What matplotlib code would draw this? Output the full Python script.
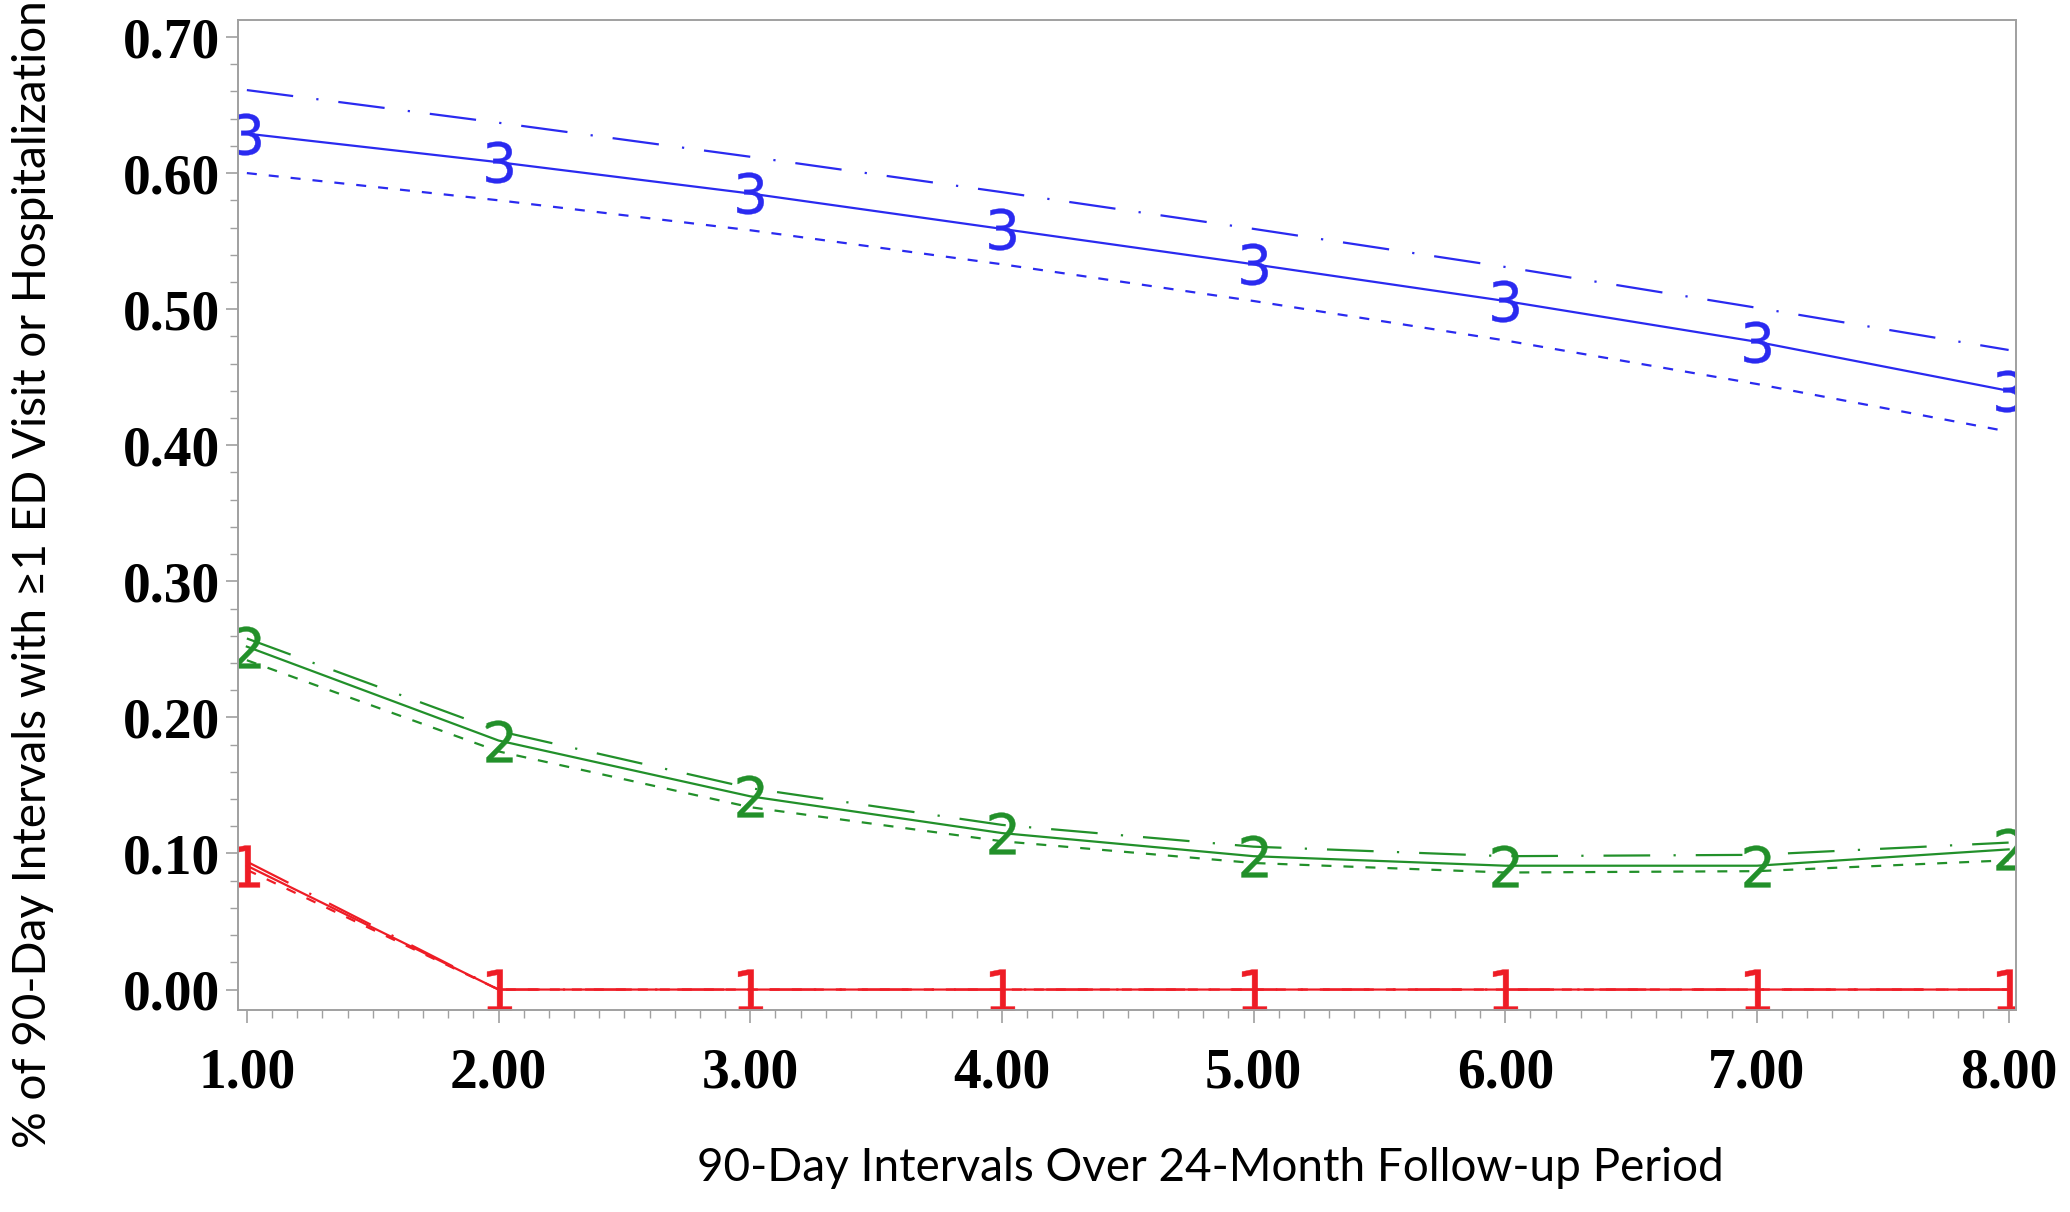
import matplotlib
matplotlib.use("Agg")
import matplotlib.pyplot as plt
from matplotlib.ticker import MultipleLocator, FormatStrFormatter

# ---- data ----
intervals = [1, 2, 3, 4, 5, 6, 7, 8]

g1_est = [0.091, 0.0, 0.0, 0.0, 0.0, 0.0, 0.0, 0.0]
g1_upper = [0.094, 0.0, 0.0, 0.0, 0.0, 0.0, 0.0, 0.0]
g1_lower = [0.088, 0.0, 0.0, 0.0, 0.0, 0.0, 0.0, 0.0]

g2_est = [0.252, 0.183, 0.142, 0.115, 0.098, 0.091, 0.091, 0.103]
g2_upper = [0.258, 0.190, 0.148, 0.121, 0.105, 0.098, 0.099, 0.108]
g2_lower = [0.242, 0.175, 0.134, 0.109, 0.093, 0.086, 0.087, 0.095]

g3_est = [0.629, 0.608, 0.585, 0.559, 0.533, 0.506, 0.476, 0.440]
g3_upper = [0.661, 0.637, 0.612, 0.586, 0.559, 0.531, 0.501, 0.470]
g3_lower = [0.600, 0.580, 0.558, 0.533, 0.506, 0.477, 0.445, 0.410]

group_labels = ["1", "2", "3"]
y_ticks = [0.0, 0.1, 0.2, 0.3, 0.4, 0.5, 0.6, 0.7]
x_ticks = [1, 2, 3, 4, 5, 6, 7, 8]

xlabel = "90-Day Intervals Over 24-Month Follow-up Period"
ylabel = "% of 90-Day Intervals with \u22651 ED Visit or Hospitalization"

# ---- style ----
colors = ["#EE1C25", "#22902A", "#2A2AF0"]
LW = 1.6
dashdot = (0, (21, 10.5, 1, 9))
dotted = (0, (4.5, 5.4))

fig = plt.figure(figsize=(20.7, 12.12), dpi=100)
ax = fig.add_axes([0.115, 0.1667, 0.859, 0.8168])

groups = [
    (g1_est, g1_upper, g1_lower),
    (g2_est, g2_upper, g2_lower),
    (g3_est, g3_upper, g3_lower),
]
for (est, up, lo), col, lab in zip(groups, colors, group_labels):
    ax.plot(intervals, up, color=col, lw=LW, linestyle=dashdot)
    ax.plot(intervals, lo, color=col, lw=LW, linestyle=dotted)
    ax.plot(intervals, est, color=col, lw=LW, linestyle="-",
            marker="$" + lab + "$", markersize=30, markeredgewidth=0.3,
            markerfacecolor=col, markeredgecolor=col)

ax.set_xlim(0.965, 8.03)
ax.set_ylim(-0.015, 0.7125)
ax.set_xticks(x_ticks)
ax.set_yticks(y_ticks)
ax.xaxis.set_minor_locator(MultipleLocator(0.1))
ax.yaxis.set_minor_locator(MultipleLocator(0.02))
ax.xaxis.set_major_formatter(FormatStrFormatter("%.2f"))
ax.yaxis.set_major_formatter(FormatStrFormatter("%.2f"))

spine_col = "#A0A0A0"
for s in ax.spines.values():
    s.set_color(spine_col)
    s.set_linewidth(1.4)

ax.tick_params(which="major", direction="out", length=9, width=1.2,
               color=spine_col, labelsize=40, labelcolor="black")
ax.tick_params(which="minor", direction="out", length=6, width=1.0,
               color=spine_col)
ax.tick_params(axis="x", which="major", pad=18)
ax.tick_params(axis="y", which="major", pad=4)
for t in ax.get_xticklabels() + ax.get_yticklabels():
    t.set_fontfamily("Liberation Serif")
    t.set_fontweight("bold")

ax.set_xlabel(xlabel, fontsize=33, family=["Lato", "DejaVu Sans"])
ax.set_ylabel(ylabel, fontsize=33, family=["Lato", "DejaVu Sans"])
ax.xaxis.set_label_coords(0.547, -0.160)
ax.xaxis.label.set_va("center")
ax.yaxis.set_label_coords(-0.1153, 0.440)
ax.yaxis.label.set_va("center")

fig.savefig("out.png", dpi=100, facecolor="white")
